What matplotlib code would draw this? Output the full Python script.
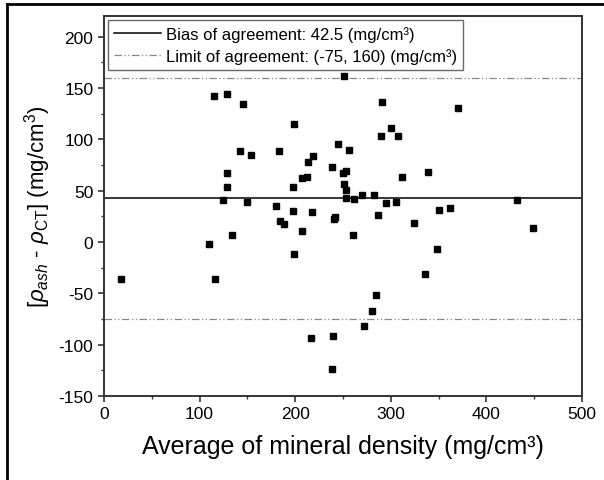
import matplotlib
matplotlib.use("Agg")
import matplotlib.pyplot as plt
from matplotlib.lines import Line2D
from matplotlib.ticker import MultipleLocator

plt.rcParams['font.family'] = ['Liberation Sans', 'DejaVu Sans']
plt.rcParams['mathtext.fontset'] = 'custom'
plt.rcParams['mathtext.rm'] = 'Liberation Sans'
plt.rcParams['mathtext.it'] = 'Liberation Sans:italic'
plt.rcParams['axes.unicode_minus'] = False

# average of mineral density (mg/cm3) vs difference (mg/cm3)
avg_density = [115.4, 128.3, 145.1, 141.9, 154.1, 128.7, 128.7, 124.8, 149.3, 134.2,
               291.1, 370.3, 199.1, 300.5, 290.1, 307.5, 244.8, 182.7, 256.6, 218.9,
               213.4, 238.5, 252.8, 250.3, 206.8, 212.7, 311.7, 338.6, 197.4, 250.7,
               252.8, 252.8, 261.5, 269.6, 282.7, 295.0, 305.1, 179.6, 197.7, 217.9,
               183.8, 188.0, 240.6, 241.9, 206.8, 260.8, 286.9, 324.0, 350.7, 362.2,
               17.8, 109.8, 116.1, 348.0, 198.4, 335.5, 284.2, 280.3, 271.7, 216.2,
               239.2, 238.2, 251.4, 432.0, 448.7]
difference = [141.8, 143.8, 134.7, 88.9, 84.3, 66.8, 53.8, 41.1, 38.9, 7.0,
              136.4, 130.1, 115.2, 111.3, 103.5, 102.8, 95.4, 88.9, 89.9, 84.0,
              77.5, 72.6, 68.7, 67.4, 62.6, 63.5, 63.5, 68.1, 53.5, 56.7,
              50.6, 42.8, 41.4, 45.3, 45.3, 37.5, 39.2, 35.0, 30.1, 29.1,
              20.7, 17.7, 22.3, 24.3, 10.6, 7.0, 26.5, 18.0, 31.1, 32.7,
              -35.6, -2.0, -35.6, -6.9, -12.2, -31.0, -52.1, -67.7, -81.4, -93.4,
              -91.7, -123.3, 162.0, 41.1, 13.8]

bias = 42.5
limits = [-75, 160]

fig = plt.figure(figsize=(6.04, 4.81), dpi=100)
ax = fig.add_axes([0.172, 0.1746, 0.7916, 0.79])

ax.axhline(bias, color='black', lw=1.1, label='Bias of agreement: 42.5 (mg/cm³)')
for i, lim in enumerate(limits):
    ax.axhline(lim, color='#888888', lw=0.9, linestyle=(0, (6, 2, 1, 2, 1, 2)),
               label='Limit of agreement: (-75, 160) (mg/cm³)' if i == 0 else None)
ax.plot(avg_density, difference, 's', color='black', markersize=4, linestyle='none')

ax.set_xlim(0, 500)
ax.set_ylim(-150, 220)
ax.set_yticks([-150, -100, -50, 0, 50, 100, 150, 200])
ax.xaxis.set_minor_locator(MultipleLocator(50))
ax.yaxis.set_minor_locator(MultipleLocator(25))
ax.tick_params(which='major', direction='out', length=4, width=1.2, labelsize=12.5, color='#333333')
ax.tick_params(which='minor', direction='out', length=2.5, width=1.0, color='#333333')
ax.tick_params(top=False, right=False, which='both')
for sp in ax.spines.values():
    sp.set_linewidth(1.4)
    sp.set_color('#333333')

ax.set_xlabel('Average of mineral density (mg/cm³)', fontsize=18, labelpad=9)
ax.set_ylabel(r'[$\rho_{ash}$ - $\rho_{\mathrm{CT}}$] (mg/cm$^3$)', fontsize=16, labelpad=4)

leg = ax.legend(loc='upper left', fontsize=12, frameon=True, fancybox=False,
                borderaxespad=0.25, handlelength=2.8, handletextpad=0.3,
                borderpad=0.35, labelspacing=0.35)
leg.get_frame().set_edgecolor('#444444')
leg.get_frame().set_linewidth(1.0)

# outer frame on top and left edges
fig.add_artist(Line2D([0.012, 1.0], [0.99, 0.99], transform=fig.transFigure, color='black', lw=2))
fig.add_artist(Line2D([0.012, 0.012], [0.0, 0.99], transform=fig.transFigure, color='black', lw=2))

fig.savefig('out.png', dpi=100)
